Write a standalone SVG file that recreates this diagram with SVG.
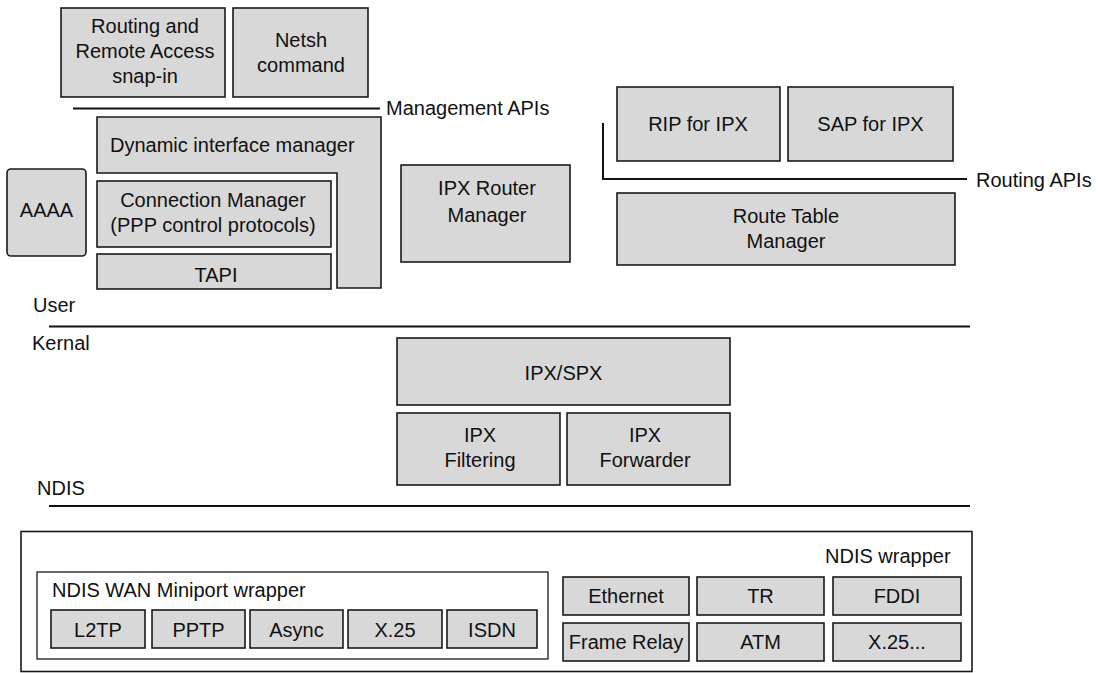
<svg xmlns="http://www.w3.org/2000/svg" width="1099" height="673" viewBox="0 0 1099 673">
<style>
  .box { fill: #d8d8d8; stroke: #1a1a1a; stroke-width: 1.6; }
  .frame { fill: none; stroke: #1a1a1a; stroke-width: 1.6; }
  .line { fill: none; stroke: #111; stroke-width: 2; }
  text { font-family: "Liberation Sans", Arial, Helvetica, sans-serif; font-size: 20px; fill: #111; }
  .c { text-anchor: middle; }
</style>
<rect width="1099" height="673" fill="#ffffff"/>

<g id="connectors">
  <polyline class="line" points="73,108.5 380,108.5"/>
  <polyline class="line" points="603,123 603,179 967,179"/>
  <line class="line" x1="49" y1="326.5" x2="970" y2="326.5"/>
  <line class="line" x1="49" y1="506" x2="970" y2="506"/>
</g>

<g id="labels">
  <text x="386" y="115">Management APIs</text>
  <text x="976" y="187">Routing APIs</text>
  <text x="33" y="312">User</text>
  <text x="32" y="350">Kernal</text>
  <text x="37" y="495">NDIS</text>
</g>

<g id="rras-snapin">
  <rect class="box" x="61" y="8" width="164" height="89"/>
  <text class="c" x="145" y="33">Routing and</text>
  <text class="c" x="145" y="58">Remote Access</text>
  <text class="c" x="145" y="83">snap-in</text>
</g>
<g id="netsh">
  <rect class="box" x="233" y="8" width="135" height="89"/>
  <text class="c" x="301" y="47">Netsh</text>
  <text class="c" x="301" y="72">command</text>
</g>
<g id="dim">
  <path class="box" d="M97,117 H381 V288 H337 V173 H97 Z"/>
  <text x="110" y="152">Dynamic interface manager</text>
</g>
<g id="aaaa">
  <rect class="box" x="7" y="169" width="79" height="87" rx="4"/>
  <text class="c" x="46.5" y="217">AAAA</text>
</g>
<g id="connection-manager">
  <rect class="box" x="97" y="181" width="234" height="66"/>
  <text class="c" x="213" y="207">Connection Manager</text>
  <text class="c" x="213" y="232">(PPP control protocols)</text>
</g>
<g id="tapi">
  <rect class="box" x="97" y="254" width="234" height="35"/>
  <text class="c" x="216" y="282">TAPI</text>
</g>
<g id="ipx-router-manager">
  <rect class="box" x="401" y="165" width="169" height="97"/>
  <text class="c" x="487" y="195">IPX Router</text>
  <text class="c" x="487" y="222">Manager</text>
</g>
<g id="rip">
  <rect class="box" x="617" y="87" width="163" height="74"/>
  <text class="c" x="698" y="131">RIP for IPX</text>
</g>
<g id="sap">
  <rect class="box" x="788" y="87" width="165" height="74"/>
  <text class="c" x="870.5" y="131">SAP for IPX</text>
</g>
<g id="route-table-manager">
  <rect class="box" x="617" y="193" width="338" height="72"/>
  <text class="c" x="786" y="223">Route Table</text>
  <text class="c" x="786" y="248">Manager</text>
</g>
<g id="ipx-spx">
  <rect class="box" x="397" y="338" width="333" height="67"/>
  <text class="c" x="563.5" y="380">IPX/SPX</text>
</g>
<g id="ipx-filtering">
  <rect class="box" x="397" y="413" width="163" height="72"/>
  <text class="c" x="480" y="442">IPX</text>
  <text class="c" x="480" y="467">Filtering</text>
</g>
<g id="ipx-forwarder">
  <rect class="box" x="567" y="413" width="163" height="72"/>
  <text class="c" x="645" y="442">IPX</text>
  <text class="c" x="645" y="467">Forwarder</text>
</g>

<g id="ndis-wrapper">
  <rect class="frame" x="21" y="531.5" width="951" height="140"/>
  <text x="825" y="563">NDIS wrapper</text>
</g>
<g id="ndis-wan-miniport">
  <rect class="frame" x="37" y="572" width="511" height="87" style="stroke-width:1.3"/>
  <text x="52" y="597">NDIS WAN Miniport wrapper</text>
</g>
<g id="l2tp">
  <rect class="box" x="51" y="610" width="94" height="38"/>
  <text class="c" x="98" y="637">L2TP</text>
</g>
<g id="pptp">
  <rect class="box" x="152" y="610" width="93" height="38"/>
  <text class="c" x="198.5" y="637">PPTP</text>
</g>
<g id="async">
  <rect class="box" x="250" y="610" width="93" height="38"/>
  <text class="c" x="296.5" y="637">Async</text>
</g>
<g id="x25-wan">
  <rect class="box" x="348" y="610" width="94" height="38"/>
  <text class="c" x="395" y="637">X.25</text>
</g>
<g id="isdn">
  <rect class="box" x="447" y="610" width="90" height="38"/>
  <text class="c" x="492" y="637">ISDN</text>
</g>
<g id="ethernet">
  <rect class="box" x="563" y="577" width="126" height="38"/>
  <text class="c" x="626" y="603">Ethernet</text>
</g>
<g id="tr">
  <rect class="box" x="697" y="577" width="127" height="38"/>
  <text class="c" x="760.5" y="603">TR</text>
</g>
<g id="fddi">
  <rect class="box" x="833" y="577" width="128" height="38"/>
  <text class="c" x="897" y="603">FDDI</text>
</g>
<g id="frame-relay">
  <rect class="box" x="563" y="623" width="126" height="38"/>
  <text class="c" x="626" y="649">Frame Relay</text>
</g>
<g id="atm">
  <rect class="box" x="697" y="623" width="127" height="38"/>
  <text class="c" x="760.5" y="649">ATM</text>
</g>
<g id="x25-lan">
  <rect class="box" x="833" y="623" width="128" height="38"/>
  <text class="c" x="897" y="649">X.25...</text>
</g>
</svg>
